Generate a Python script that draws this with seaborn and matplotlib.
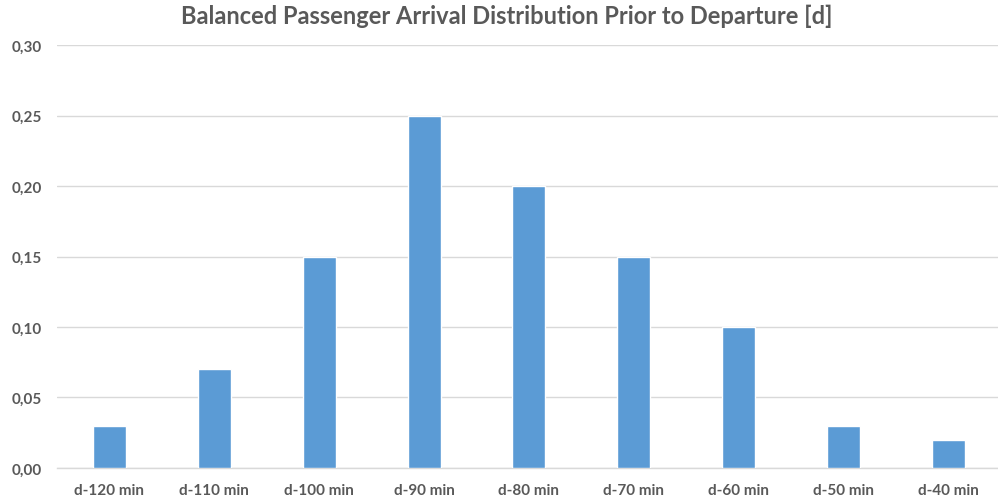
import matplotlib
matplotlib.use("Agg")
import matplotlib.pyplot as plt
import seaborn as sns
import pandas as pd
from matplotlib.ticker import FuncFormatter

categories = ["d-120 min", "d-110 min", "d-100 min", "d-90 min", "d-80 min",
              "d-70 min", "d-60 min", "d-50 min", "d-40 min"]
shares = [0.03, 0.07, 0.15, 0.25, 0.20, 0.15, 0.10, 0.03, 0.02]
y_ticks = [0.00, 0.05, 0.10, 0.15, 0.20, 0.25, 0.30]

df = pd.DataFrame({"slot": categories, "share": shares})

sns.set_theme(style="white")
plt.rcParams["font.family"] = ["Lato", "DejaVu Sans"]

text_color = "#595959"
fig = plt.figure(figsize=(9.98, 5.02), dpi=100)
ax = fig.add_axes([0.057, 0.066, 0.946, 0.842])

sns.barplot(data=df, x="slot", y="share", color="#5B9BD5", saturation=1,
            width=0.315, ax=ax, zorder=3)

ax.set_ylim(0, 0.30)
ax.set_yticks(y_ticks)
ax.yaxis.set_major_formatter(FuncFormatter(lambda v, _: f"{v:.2f}".replace(".", ",")))
ax.grid(axis="y", color="#D9D9D9", linewidth=1, zorder=0)
ax.set_axisbelow(True)
for s in ["top", "right", "left"]:
    ax.spines[s].set_visible(False)
ax.spines["bottom"].set_color("#D9D9D9")
ax.spines["bottom"].set_linewidth(1)
ax.tick_params(axis="both", length=0, labelsize=11, colors=text_color)
for lab in ax.get_xticklabels() + ax.get_yticklabels():
    lab.set_fontweight("bold")
ax.tick_params(axis="x", pad=11)
ax.tick_params(axis="y", pad=11)
ax.set_xlabel("")
ax.set_ylabel("")

fig.suptitle("Balanced Passenger Arrival Distribution Prior to Departure [d]",
             x=0.508, y=0.99, fontsize=17, fontweight="bold", color=text_color)

fig.savefig("out.png", dpi=100, facecolor="white")
